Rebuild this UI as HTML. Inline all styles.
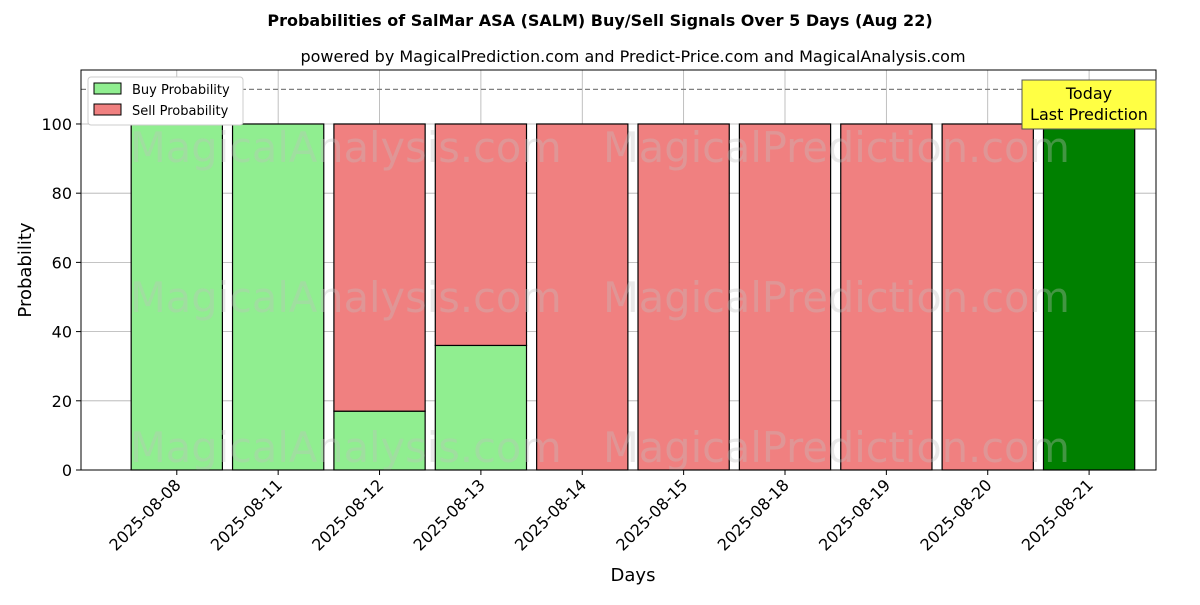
<!DOCTYPE html>
<html><head><meta charset="utf-8"><style>
body{margin:0;background:#fff;font-family:"Liberation Sans","DejaVu Sans",sans-serif}
</style></head><body>
<svg id="c" width="1200" height="600" xmlns="http://www.w3.org/2000/svg" font-family="'DejaVu Sans','Liberation Sans',sans-serif">
<text x="600" y="26" text-anchor="middle" font-size="16" font-weight="bold">Probabilities of SalMar ASA (SALM) Buy/Sell Signals Over 5 Days (Aug 22)</text>
<text x="633" y="62" text-anchor="middle" font-size="16">powered by MagicalPrediction.com and Predict-Price.com and MagicalAnalysis.com</text>
<g id="grid"></g><g id="bars"></g><g id="wm" font-size="41.5" fill="#c0c0c0" fill-opacity="0.35"></g>
<g id="axes"></g>
<text x="633" y="581" text-anchor="middle" font-size="18">Days</text>
<text transform="translate(31,270) rotate(-90)" text-anchor="middle" font-size="18">Probability</text>
<g>
<rect x="88" y="77" width="155" height="48" fill="#fff" stroke="#ccc" rx="3"/>
<rect x="94" y="83" width="27" height="11" fill="#90ee90" stroke="#000"/>
<text x="132" y="94" font-size="13">Buy Probability</text>
<rect x="94" y="104" width="27" height="11" fill="#f08080" stroke="#000"/>
<text x="132" y="115" font-size="13">Sell Probability</text>
</g>
<g>
<rect x="1022" y="80" width="134" height="49" fill="#ffff44" stroke="#555"/>
<text x="1089" y="99" text-anchor="middle" font-size="16">Today</text>
<text x="1089" y="120" text-anchor="middle" font-size="16">Last Prediction</text>
</g>
</svg>
<script>
const categories=["2025-08-08","2025-08-11","2025-08-12","2025-08-13","2025-08-14","2025-08-15","2025-08-18","2025-08-19","2025-08-20","2025-08-21"];
const buyValues=[100,100,17,36,0,0,0,0,0,100];
const sellValues=[0,0,83,64,100,100,100,100,100,0];
const yTicks=[0,20,40,60,80,100];
const NS="http://www.w3.org/2000/svg";
const L=81,R=1156,T=70,B=470,xmin=-0.945,xmax=9.66,ymax=115.6;
const xs=v=>L+(v-xmin)/(xmax-xmin)*(R-L);
const ys=v=>B-v/ymax*(B-T);
function mk(p,tag,a){const e=document.createElementNS(NS,tag);for(const k in a)e.setAttribute(k,a[k]);document.getElementById(p).appendChild(e);return e;}
yTicks.forEach(t=>{
 const g=mk('grid','line',{x1:L,x2:R,y1:ys(t),y2:ys(t),stroke:"#b0b0b0","stroke-width":0.8});
 
 
 mk('axes','line',{x1:L-5,x2:L,y1:ys(t),y2:ys(t),stroke:"#000"});
 const tx=mk('axes','text',{x:L-9,y:ys(t)+6,"text-anchor":"end","font-size":16});tx.textContent=t;
 
 
});
categories.forEach((c,i)=>{
 const g=mk('grid','line',{x1:xs(i),x2:xs(i),y1:T,y2:B,stroke:"#b0b0b0","stroke-width":0.8});
 
 
});
const hl=mk('grid','line',{x1:L,x2:R,y1:ys(110),y2:ys(110),stroke:"#808080","stroke-dasharray":"5,3","stroke-width":1.2});


const w=0.9;
categories.forEach((c,i)=>{
 const x0=xs(i-w/2),x1=xs(i+w/2),last=i===categories.length-1;
 const b=buyValues[i],s=sellValues[i];
 if(b>0){const r=mk('bars','rect',{x:x0,y:ys(b),width:x1-x0,height:ys(0)-ys(b),fill:last?"#008000":"#90ee90",stroke:"#000","stroke-width":1.2});
  
  }
 if(s>0){const r=mk('bars','rect',{x:x0,y:ys(b+s),width:x1-x0,height:ys(b)-ys(b+s),fill:"#f08080",stroke:"#000","stroke-width":1.2});
  
  }
 mk('axes','line',{x1:xs(i),x2:xs(i),y1:B,y2:B+5,stroke:"#000"});
 const tx=mk('axes','text',{x:0,y:0,"text-anchor":"end","font-size":16,transform:`translate(${xs(i)+5},${B+16}) rotate(-45)`});
 tx.textContent=c;
 
 
});
[[130,162,"MagicalAnalysis.com"],[603,162,"MagicalPrediction.com"],[130,312,"MagicalAnalysis.com"],[603,312,"MagicalPrediction.com"],[130,462,"MagicalAnalysis.com"],[603,462,"MagicalPrediction.com"]].forEach(([x,y,t])=>{
 const e=mk('wm','text',{x:x,y:y});e.textContent=t;
 
 
});
const fr=mk('axes','rect',{x:L,y:T,width:R-L,height:B-T,fill:"none",stroke:"#000","stroke-width":1});


</script>
</body></html>
